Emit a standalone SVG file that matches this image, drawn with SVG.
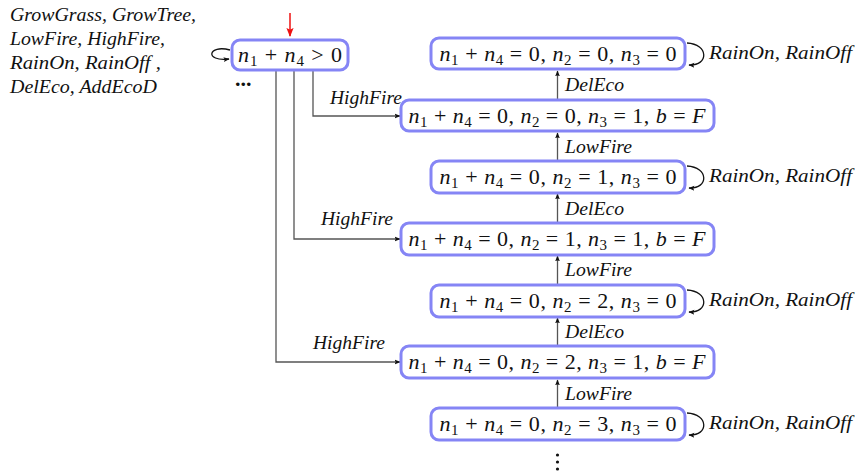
<svg xmlns="http://www.w3.org/2000/svg" width="855" height="475" viewBox="0 0 855 475">
  <style>
    .node { fill: #ffffff; stroke: #8585f5; stroke-width: 3; }
    .m { font-family: "Liberation Serif", "DejaVu Serif", serif; font-size: 22px; fill: #111; }
    .v { font-style: italic; }
    .sub { font-size: 15px; }
    .lbl { font-family: "Liberation Serif", "DejaVu Serif", serif; font-style: italic; font-size: 19px; fill: #111; }
    .edge { fill: none; stroke: #555; stroke-width: 1.3; }
    .loop { fill: none; stroke: #111; stroke-width: 1.3; }
  </style>
  <defs>
    <marker id="ah" viewBox="0 0 10 10" refX="9" refY="5" markerWidth="6" markerHeight="6" orient="auto" markerUnits="userSpaceOnUse">
      <path d="M0,1 L10,5 L0,9 L2,5 Z" fill="#111"/>
    </marker>
    <marker id="red" viewBox="0 0 10 10" refX="9" refY="5" markerWidth="9" markerHeight="9" orient="auto" markerUnits="userSpaceOnUse">
      <path d="M0,1 L10,5 L0,9 L2,5 Z" fill="#ee1111"/>
    </marker>
  </defs>

  <!-- legend of all actions -->
  <g id="legend" class="lbl">
    <text x="10" y="21" textLength="186" lengthAdjust="spacingAndGlyphs">GrowGrass, GrowTree,</text>
    <text x="10" y="45" textLength="155" lengthAdjust="spacingAndGlyphs">LowFire, HighFire,</text>
    <text x="10" y="69" textLength="151" lengthAdjust="spacingAndGlyphs">RainOn, RainOff ,</text>
    <text x="10" y="93" textLength="147" lengthAdjust="spacingAndGlyphs">DelEco, AddEcoD</text>
  </g>

  <g id="connectors">
    <!-- initial marker -->
    <line x1="290" y1="13" x2="290" y2="36" stroke="#ee1111" stroke-width="1.5" marker-end="url(#red)"/>
    <!-- self loop on start state -->
    <path class="loop" d="M230,50 C208,44 204,62 229,59" marker-end="url(#ah)"/>
    <!-- HighFire branches -->
    <path class="edge" d="M313,70 V116 H400" marker-end="url(#ah)"/>
    <path class="edge" d="M294,70 V239 H400" marker-end="url(#ah)"/>
    <path class="edge" d="M276,70 V362 H400" marker-end="url(#ah)"/>
    <!-- vertical chain -->
    <line class="edge" x1="557.5" y1="99" x2="557.5" y2="71" marker-end="url(#ah)"/>
    <line class="edge" x1="557.5" y1="160" x2="557.5" y2="133" marker-end="url(#ah)"/>
    <line class="edge" x1="557.5" y1="222" x2="557.5" y2="194" marker-end="url(#ah)"/>
    <line class="edge" x1="557.5" y1="284" x2="557.5" y2="256" marker-end="url(#ah)"/>
    <line class="edge" x1="557.5" y1="345" x2="557.5" y2="318" marker-end="url(#ah)"/>
    <line class="edge" x1="557.5" y1="407" x2="557.5" y2="380" marker-end="url(#ah)"/>
    <!-- rain self loops -->
    <path class="loop" d="M687,43 C709,44 709,66 689,65" marker-end="url(#ah)"/>
    <path class="loop" d="M687,166 C709,167 709,189 689,188" marker-end="url(#ah)"/>
    <path class="loop" d="M687,290 C709,291 709,313 689,312" marker-end="url(#ah)"/>
    <path class="loop" d="M687,413 C709,414 709,436 689,435" marker-end="url(#ah)"/>
    <!-- edge labels -->
    <g class="lbl">
      <text x="330" y="104" textLength="72" lengthAdjust="spacingAndGlyphs">HighFire</text>
      <text x="321" y="225" textLength="72" lengthAdjust="spacingAndGlyphs">HighFire</text>
      <text x="313" y="349" textLength="72" lengthAdjust="spacingAndGlyphs">HighFire</text>
      <text x="565" y="91" textLength="59" lengthAdjust="spacingAndGlyphs">DelEco</text>
      <text x="565" y="153" textLength="67" lengthAdjust="spacingAndGlyphs">LowFire</text>
      <text x="565" y="215" textLength="59" lengthAdjust="spacingAndGlyphs">DelEco</text>
      <text x="565" y="276" textLength="67" lengthAdjust="spacingAndGlyphs">LowFire</text>
      <text x="565" y="338" textLength="59" lengthAdjust="spacingAndGlyphs">DelEco</text>
      <text x="565" y="400" textLength="67" lengthAdjust="spacingAndGlyphs">LowFire</text>
      <text x="709" y="59" textLength="143" lengthAdjust="spacingAndGlyphs">RainOn, RainOff</text>
      <text x="709" y="182" textLength="143" lengthAdjust="spacingAndGlyphs">RainOn, RainOff</text>
      <text x="709" y="306" textLength="143" lengthAdjust="spacingAndGlyphs">RainOn, RainOff</text>
      <text x="709" y="429" textLength="143" lengthAdjust="spacingAndGlyphs">RainOn, RainOff</text>
    </g>
    <!-- continuation dots -->
    <text x="235" y="86" class="m" font-weight="bold" font-size="16">...</text>
    <g fill="#111">
      <circle cx="557.5" cy="455" r="1.6"/>
      <circle cx="557.5" cy="462" r="1.6"/>
      <circle cx="557.5" cy="469" r="1.6"/>
    </g>
  </g>

  <g id="start">
    <rect class="node" x="232" y="40" width="116" height="30" rx="8"/>
    <text class="m" x="290" y="62" text-anchor="middle" textLength="104" lengthAdjust="spacing"><tspan class="v">n</tspan><tspan class="sub" dy="4">1</tspan><tspan dy="-4"> + </tspan><tspan class="v">n</tspan><tspan class="sub" dy="4">4</tspan><tspan dy="-4"> &gt; 0</tspan></text>
  </g>

  <g id="s000">
    <rect class="node" x="431" y="38" width="254" height="31" rx="8"/>
    <text class="m" x="558" y="61" text-anchor="middle" textLength="237" lengthAdjust="spacing"><tspan class="v">n</tspan><tspan class="sub" dy="4">1</tspan><tspan dy="-4"> + </tspan><tspan class="v">n</tspan><tspan class="sub" dy="4">4</tspan><tspan dy="-4"> = 0, </tspan><tspan class="v">n</tspan><tspan class="sub" dy="4">2</tspan><tspan dy="-4"> = 0, </tspan><tspan class="v">n</tspan><tspan class="sub" dy="4">3</tspan><tspan dy="-4"> = 0</tspan></text>
  </g>

  <g id="s001">
    <rect class="node" x="401" y="100" width="313" height="31" rx="8"/>
    <text class="m" x="557" y="123" text-anchor="middle" textLength="297" lengthAdjust="spacing"><tspan class="v">n</tspan><tspan class="sub" dy="4">1</tspan><tspan dy="-4"> + </tspan><tspan class="v">n</tspan><tspan class="sub" dy="4">4</tspan><tspan dy="-4"> = 0, </tspan><tspan class="v">n</tspan><tspan class="sub" dy="4">2</tspan><tspan dy="-4"> = 0, </tspan><tspan class="v">n</tspan><tspan class="sub" dy="4">3</tspan><tspan dy="-4"> = 1, </tspan><tspan class="v">b</tspan><tspan> = </tspan><tspan class="v">F</tspan></text>
  </g>

  <g id="s010">
    <rect class="node" x="431" y="161" width="254" height="32" rx="8"/>
    <text class="m" x="558" y="184" text-anchor="middle" textLength="237" lengthAdjust="spacing"><tspan class="v">n</tspan><tspan class="sub" dy="4">1</tspan><tspan dy="-4"> + </tspan><tspan class="v">n</tspan><tspan class="sub" dy="4">4</tspan><tspan dy="-4"> = 0, </tspan><tspan class="v">n</tspan><tspan class="sub" dy="4">2</tspan><tspan dy="-4"> = 1, </tspan><tspan class="v">n</tspan><tspan class="sub" dy="4">3</tspan><tspan dy="-4"> = 0</tspan></text>
  </g>

  <g id="s011">
    <rect class="node" x="401" y="223" width="313" height="32" rx="8"/>
    <text class="m" x="557" y="246" text-anchor="middle" textLength="297" lengthAdjust="spacing"><tspan class="v">n</tspan><tspan class="sub" dy="4">1</tspan><tspan dy="-4"> + </tspan><tspan class="v">n</tspan><tspan class="sub" dy="4">4</tspan><tspan dy="-4"> = 0, </tspan><tspan class="v">n</tspan><tspan class="sub" dy="4">2</tspan><tspan dy="-4"> = 1, </tspan><tspan class="v">n</tspan><tspan class="sub" dy="4">3</tspan><tspan dy="-4"> = 1, </tspan><tspan class="v">b</tspan><tspan> = </tspan><tspan class="v">F</tspan></text>
  </g>

  <g id="s020">
    <rect class="node" x="431" y="285" width="254" height="32" rx="8"/>
    <text class="m" x="558" y="308" text-anchor="middle" textLength="237" lengthAdjust="spacing"><tspan class="v">n</tspan><tspan class="sub" dy="4">1</tspan><tspan dy="-4"> + </tspan><tspan class="v">n</tspan><tspan class="sub" dy="4">4</tspan><tspan dy="-4"> = 0, </tspan><tspan class="v">n</tspan><tspan class="sub" dy="4">2</tspan><tspan dy="-4"> = 2, </tspan><tspan class="v">n</tspan><tspan class="sub" dy="4">3</tspan><tspan dy="-4"> = 0</tspan></text>
  </g>

  <g id="s021">
    <rect class="node" x="401" y="346" width="313" height="32" rx="8"/>
    <text class="m" x="557" y="369" text-anchor="middle" textLength="297" lengthAdjust="spacing"><tspan class="v">n</tspan><tspan class="sub" dy="4">1</tspan><tspan dy="-4"> + </tspan><tspan class="v">n</tspan><tspan class="sub" dy="4">4</tspan><tspan dy="-4"> = 0, </tspan><tspan class="v">n</tspan><tspan class="sub" dy="4">2</tspan><tspan dy="-4"> = 2, </tspan><tspan class="v">n</tspan><tspan class="sub" dy="4">3</tspan><tspan dy="-4"> = 1, </tspan><tspan class="v">b</tspan><tspan> = </tspan><tspan class="v">F</tspan></text>
  </g>

  <g id="s030">
    <rect class="node" x="431" y="408" width="254" height="32" rx="8"/>
    <text class="m" x="558" y="431" text-anchor="middle" textLength="237" lengthAdjust="spacing"><tspan class="v">n</tspan><tspan class="sub" dy="4">1</tspan><tspan dy="-4"> + </tspan><tspan class="v">n</tspan><tspan class="sub" dy="4">4</tspan><tspan dy="-4"> = 0, </tspan><tspan class="v">n</tspan><tspan class="sub" dy="4">2</tspan><tspan dy="-4"> = 3, </tspan><tspan class="v">n</tspan><tspan class="sub" dy="4">3</tspan><tspan dy="-4"> = 0</tspan></text>
  </g>
</svg>
